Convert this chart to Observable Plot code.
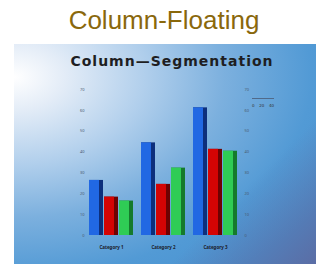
<!DOCTYPE html>
<html>
<head>
<meta charset="utf-8">
<script src="https://cdn.jsdelivr.net/npm/d3@7"></script>
<script src="https://cdn.jsdelivr.net/npm/@observablehq/plot@0.6"></script>
<style>
  html, body { margin: 0; padding: 0; background: #ffffff; }
  #wrap { position: relative; width: 316px; height: 264px; overflow: hidden; }
  #title { position: absolute; left: 6px; top: 2px; width: 316px; text-align: center;
    font: 26px "Liberation Sans", Arial, sans-serif; color: #8a680c; line-height: 36px; }
  #panel { position: absolute; left: 14px; top: 44px; width: 302px; height: 220px;
    background:
      linear-gradient(135deg, rgba(0,0,0,0) 72%, rgba(96,96,150,0.75) 100%),
      radial-gradient(ellipse 120% 110% at 0% 15%, #ffffff 0%, #e3ecf7 14%, #b1cfec 36%, #7cb0de 58%, #529ad5 82%, #4a93d1 100%);
  }
  #subtitle { position: absolute; left: 7px; top: 9px; width: 302px; text-align: center;
    font: bold 14px "DejaVu Sans", sans-serif; letter-spacing: 1px; color: #1e1e22; }
  #chart { position: absolute; left: 0; top: 0; }
  #legend { position: absolute; left: 238px; top: 54px; width: 22px; border-top: 1px solid #506a8a;
    font: 4px "DejaVu Sans", sans-serif; color: #333; display: flex; justify-content: space-between; padding-top: 4px; }
</style>
</head>
<body>
<div id="wrap">
  <div id="title">Column-Floating</div>
  <div id="panel">
    <div id="chart"></div>
    <div id="subtitle">Column—Segmentation</div>
    <div id="legend"><span>0</span><span>20</span><span>40</span></div>
  </div>
</div>
<script>
const categories = ["Category 1", "Category 2", "Category 3"];
const seriesNames = ["Series 1", "Series 2", "Series 3"];
const series1 = [26.4, 44.4, 61.2];
const series2 = [18.4, 24.5, 41.3];
const series3 = [16.5, 32.3, 40.4];
const yTicks = [0, 10, 20, 30, 40, 50, 60, 70];

const brightColors = ["#2168e3", "#d40404", "#2fcc55"];
const darkColors = ["#0d2f7c", "#6e0202", "#157a2c"];

const seriesValues = [series1, series2, series3];
const rows = [];
categories.forEach((c, i) => {
  seriesNames.forEach((s, j) => {
    rows.push({category: c, series: s, value: seriesValues[j][i], bright: brightColors[j], dark: darkColors[j]});
  });
});

const chart = Plot.plot({
  width: 302,
  height: 220,
  marginTop: 45,
  marginBottom: 29,
  marginLeft: 73,
  marginRight: 77,
  style: {background: "transparent", overflow: "visible"},
  fx: {domain: categories, padding: 0.12, label: null},
  x: {domain: seriesNames, padding: 0.06, axis: null},
  y: {domain: [0, 70], axis: null},
  color: {type: "identity"},
  marks: [
    Plot.axisY(yTicks, {anchor: "left", tickSize: 0, tickPadding: 4, fontSize: 4, fill: "#4a5a70", label: null}),
    Plot.axisY(yTicks, {anchor: "right", tickSize: 0, tickPadding: 6, fontSize: 4, fill: "#4a5a70", label: null}),
    Plot.axisFx({anchor: "bottom", tickSize: 0, tickPadding: 10, fontSize: 4.5, fontWeight: "bold", fill: "#1a1a2a", label: null}),
    Plot.barY(rows, {fx: "category", x: "series", y: "value", fill: "dark"}),
    Plot.barY(rows, {fx: "category", x: "series", y: "value", fill: "bright", insetRight: 4})
  ]
});
document.getElementById("chart").appendChild(chart);
</script>
</body>
</html>
